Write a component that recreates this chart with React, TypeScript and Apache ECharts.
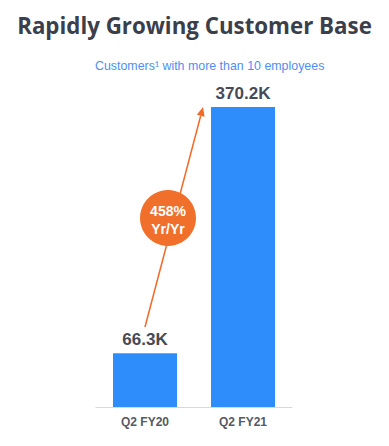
import React, { useEffect, useRef } from "react";
import * as echarts from "echarts";

const categories = ["Q2 FY20", "Q2 FY21"];
const customers = [66.3, 370.2];
const valueLabels = ["66.3K", "370.2K"];
const growthText = ["458%", "Yr/Yr"];

export default function App() {
  const ref = useRef<HTMLDivElement>(null);
  useEffect(() => {
    const chart = echarts.init(ref.current!, null, { renderer: "svg" });
    const tip = [203, 107];
    const tail = [145, 327];
    const dx = tip[0] - tail[0];
    const dy = tip[1] - tail[1];
    const len = Math.sqrt(dx * dx + dy * dy);
    const ux = dx / len, uy = dy / len;
    const hl = 9, hw = 4;
    const bx = tip[0] - hl * ux, by = tip[1] - hl * uy;
    const px = -uy, py = ux;
    chart.setOption({
      animation: false,
      backgroundColor: "#ffffff",
      title: [
        {
          text: "Rapidly Growing Customer Base",
          left: "center",
          top: 9,
          textStyle: { fontFamily: "Open Sans", fontWeight: "bold", fontSize: 22.3, color: "#3b3e4b" },
        },
        {
          text: "Customers¹ with more than 10 employees",
          left: 90,
          top: 55,
          textStyle: { fontFamily: "Liberation Sans", fontWeight: "normal", fontSize: 12.4, color: "#4f8ef2" },
        },
      ],
      grid: { left: 96, right: 97, top: 107, bottom: 39 },
      xAxis: {
        type: "category",
        data: categories,
        axisLine: { lineStyle: { color: "#d9d9d9", width: 1 } },
        axisTick: { show: false },
        axisLabel: { margin: 9, fontFamily: "Liberation Sans", fontWeight: "bold", fontSize: 12, color: "#555a63" },
      },
      yAxis: { type: "value", min: 0, max: 370.2, show: false },
      series: [
        {
          type: "bar",
          data: customers,
          barWidth: 64,
          itemStyle: { color: "#2f8cfb" },
          label: {
            show: true,
            position: "top",
            distance: 5,
            formatter: (p: any) => valueLabels[p.dataIndex],
            fontFamily: "Liberation Sans",
            fontWeight: "bold",
            fontSize: 17,
            color: "#474a55",
          },
        },
      ],
      graphic: [
        {
          type: "line",
          shape: { x1: tail[0], y1: tail[1], x2: bx, y2: by },
          style: { stroke: "#f06a28", lineWidth: 1.5 },
        },
        {
          type: "polygon",
          shape: {
            points: [
              [tip[0], tip[1]],
              [bx + hw * px, by + hw * py],
              [bx - hw * px, by - hw * py],
            ],
          },
          style: { fill: "#f06a28" },
        },
        {
          type: "circle",
          shape: { cx: 168, cy: 218, r: 28 },
          style: { fill: "#f0702b" },
        },
        {
          type: "text",
          x: 168,
          y: 211,
          style: {
            text: growthText[0],
            fill: "#ffffff",
            font: "bold 14px 'Liberation Sans'",
            align: "center",
            verticalAlign: "middle",
          },
        },
        {
          type: "text",
          x: 168,
          y: 229,
          style: {
            text: growthText[1],
            fill: "#ffffff",
            font: "bold 14px 'Liberation Sans'",
            align: "center",
            verticalAlign: "middle",
          },
        },
      ],
    });
    return () => chart.dispose();
  }, []);
  return <div ref={ref} style={{ position: "fixed", left: 0, top: 0, width: 389, height: 446 }} />;
}
